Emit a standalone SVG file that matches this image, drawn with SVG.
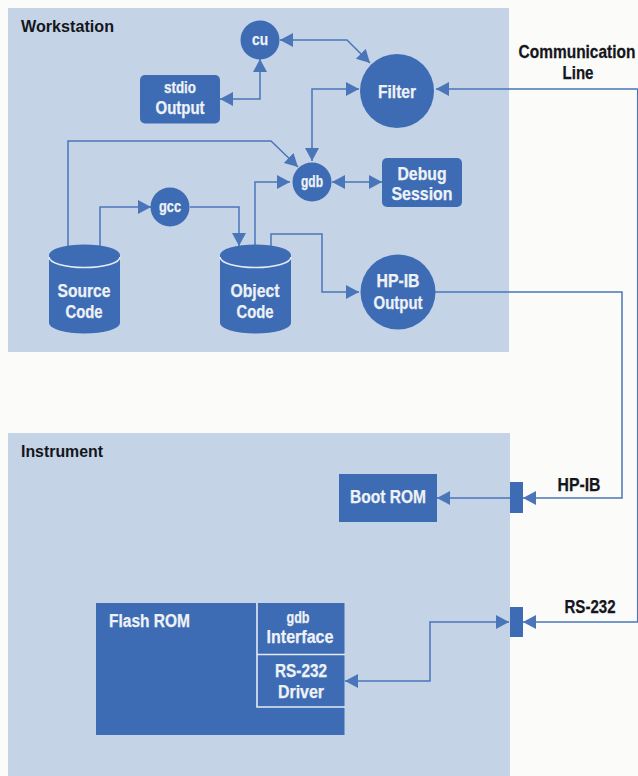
<svg xmlns="http://www.w3.org/2000/svg" width="638" height="776" viewBox="0 0 638 776">
<style>
.panel{fill:#c4d3e6}
.n{fill:#3e6cb4}
.c{fill:none;stroke:#4a76b9;stroke-width:1.5}
.w{fill:#eef2f7;stroke:#eef2f7;stroke-width:.25;font-family:"Liberation Sans",Arial,sans-serif;font-weight:700;font-size:18px;text-anchor:middle}
.s{font-size:16px}
.k{fill:#14161c;stroke:#14161c;stroke-width:.25;font-family:"Liberation Sans",Arial,sans-serif;font-weight:700;font-size:18px;text-anchor:middle}
.t{fill:#14161c;font-family:"Liberation Sans",Arial,sans-serif;font-weight:700;font-size:16.500px}
.sep{fill:none;stroke:#e4ebf4;stroke-width:1.6}
</style>
<defs>
<marker id="a" markerUnits="userSpaceOnUse" markerWidth="14" markerHeight="15" refX="13" refY="7.500" orient="auto-start-reverse"><path d="M0 0.500L13 7.500L0 14.500Z" fill="#4a76b9"/></marker>
</defs>
<rect width="638" height="776" fill="#fbfbf9"/>
<rect class="panel" x="8" y="8" width="501" height="344"/>
<rect class="panel" x="8" y="433" width="502" height="343"/>
<text class="t" x="21" y="32" textLength="93" lengthAdjust="spacingAndGlyphs">Workstation</text>
<text class="t" x="21" y="457" textLength="82" lengthAdjust="spacingAndGlyphs">Instrument</text>
<text class="k" transform="translate(577 58) scale(.86 1)">Communication</text>
<text class="k" x="578" y="79" textLength="31" lengthAdjust="spacingAndGlyphs">Line</text>
<text class="k" x="579" y="491" textLength="43" lengthAdjust="spacingAndGlyphs">HP-IB</text>
<text class="k" x="590" y="613" textLength="51" lengthAdjust="spacingAndGlyphs">RS-232</text>
<g id="connectors">
<path class="c" d="M280 40H347L370 63" marker-start="url(#a)" marker-end="url(#a)"/>
<path class="c" d="M260 59V99H220" marker-start="url(#a)" marker-end="url(#a)"/>
<path class="c" d="M359 89H312V161" marker-start="url(#a)" marker-end="url(#a)"/>
<path class="c" d="M637.700 622V89H436" marker-end="url(#a)"/>
<path class="c" d="M68 246V141H271L298 167" marker-end="url(#a)"/>
<path class="c" d="M100 246V207H151" marker-end="url(#a)"/>
<path class="c" d="M190 207H239V246" marker-end="url(#a)"/>
<path class="c" d="M255 246V182H290" marker-end="url(#a)"/>
<path class="c" d="M332 182H382" marker-start="url(#a)" marker-end="url(#a)"/>
<path class="c" d="M271 246V234H322V292H359" marker-end="url(#a)"/>
<path class="c" d="M435 292H622V498H523" marker-end="url(#a)"/>
<path class="c" d="M510 498H437" marker-end="url(#a)"/>
<path class="c" d="M638 622H523" marker-end="url(#a)"/>
<path class="c" d="M345 681H430V622H509" marker-start="url(#a)" marker-end="url(#a)"/>
</g>
<g id="cu"><circle class="n" cx="260" cy="40" r="19.500"/><text class="w s" x="260" y="45" textLength="16" lengthAdjust="spacingAndGlyphs">cu</text></g>
<g id="filter"><circle class="n" cx="397" cy="91" r="37"/><text class="w" x="397" y="98" textLength="38" lengthAdjust="spacingAndGlyphs">Filter</text></g>
<g id="stdio-output"><rect class="n" x="140" y="75" width="80" height="48.500" rx="5"/><text class="w s" x="180" y="93" textLength="32" lengthAdjust="spacingAndGlyphs">stdio</text><text class="w" x="180" y="114" textLength="49" lengthAdjust="spacingAndGlyphs">Output</text></g>
<g id="gdb"><circle class="n" cx="312" cy="182" r="19.500"/><text class="w s" x="312" y="187" textLength="22" lengthAdjust="spacingAndGlyphs">gdb</text></g>
<g id="debug-session"><rect class="n" x="382" y="158" width="80" height="49" rx="5"/><text class="w" x="422" y="180" textLength="49" lengthAdjust="spacingAndGlyphs">Debug</text><text class="w" x="422" y="200" textLength="61" lengthAdjust="spacingAndGlyphs">Session</text></g>
<g id="gcc"><circle class="n" cx="170" cy="207" r="19.500"/><text class="w s" x="170" y="212" textLength="22" lengthAdjust="spacingAndGlyphs">gcc</text></g>
<g id="source-code"><path class="n" d="M49 255A35.500 10.500 0 0 1 120 255V323A35.500 10.500 0 0 1 49 323Z"/><path class="sep" d="M49 257A35.500 10.500 0 0 0 120 257"/><text class="w" x="84" y="297" textLength="53" lengthAdjust="spacingAndGlyphs">Source</text><text class="w" x="84" y="318" textLength="37" lengthAdjust="spacingAndGlyphs">Code</text></g>
<g id="object-code"><path class="n" d="M220 255A35.500 10.500 0 0 1 291 255V323A35.500 10.500 0 0 1 220 323Z"/><path class="sep" d="M220 257A35.500 10.500 0 0 0 291 257"/><text class="w" x="255" y="297" textLength="49" lengthAdjust="spacingAndGlyphs">Object</text><text class="w" x="255" y="318" textLength="37" lengthAdjust="spacingAndGlyphs">Code</text></g>
<g id="hp-ib-output"><circle class="n" cx="398" cy="292" r="37.500"/><text class="w" x="398" y="287" textLength="43" lengthAdjust="spacingAndGlyphs">HP-IB</text><text class="w" x="398" y="309" textLength="49" lengthAdjust="spacingAndGlyphs">Output</text></g>
<g id="boot-rom"><rect class="n" x="339" y="474" width="98" height="48"/><text class="w" x="388" y="503" textLength="76" lengthAdjust="spacingAndGlyphs">Boot ROM</text></g>
<g id="hp-ib-connector"><rect class="n" x="510" y="482" width="13" height="31"/></g>
<g id="rs-232-connector"><rect class="n" x="510" y="607" width="13" height="30"/></g>
<g id="flash-rom"><rect class="n" x="96" y="603" width="248.500" height="132"/><path class="sep" d="M257 603V707H345M257 654.500H345"/><text class="w" x="149.500" y="627" textLength="81" lengthAdjust="spacingAndGlyphs">Flash ROM</text><text class="w s" x="298" y="623" textLength="23" lengthAdjust="spacingAndGlyphs">gdb</text><text class="w" x="300" y="643" textLength="67" lengthAdjust="spacingAndGlyphs">Interface</text><text class="w" x="301" y="677" textLength="52" lengthAdjust="spacingAndGlyphs">RS-232</text><text class="w" x="301" y="698" textLength="46" lengthAdjust="spacingAndGlyphs">Driver</text></g>
</svg>
